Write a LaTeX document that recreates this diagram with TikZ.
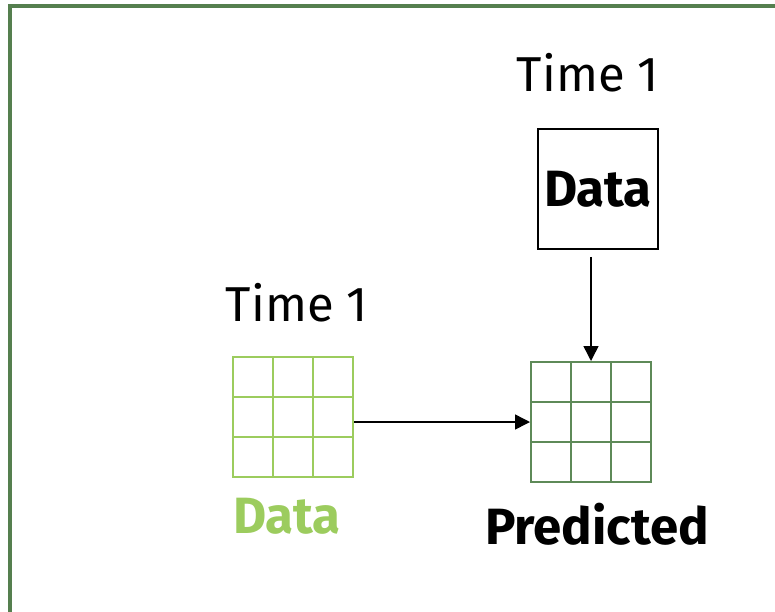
\documentclass[tikz,border=0pt]{standalone}
\usepackage{fontspec}
\setmainfont{Fira Sans}
\usepackage{xcolor}
\usetikzlibrary{arrows.meta, positioning, calc}

\definecolor{frameGreen}{HTML}{557F4F}
\definecolor{dataGreen}{HTML}{9CCC5E}
\definecolor{predGreen}{HTML}{5E8A58}

\begin{document}
\begin{tikzpicture}[
    x=0.5pt, y=-0.5pt,
    % styles
    grid_block/.style={
        draw=#1, line width=1pt, minimum size=60pt, inner sep=0pt
    },
    data_box/.style={
        draw=black, line width=0.75pt, minimum size=60pt, inner sep=0pt,
        font=\fontsize{25.5}{29}\selectfont\bfseries
    },
    time_label/.style={
        inner sep=0pt, font=\fontsize{24.5}{28}\selectfont
    },
    grid_label/.style={
        inner sep=0pt, font=\fontsize{25.5}{29}\selectfont\bfseries
    },
    flow/.style={
        -{Triangle[length=7.5pt, width=7.5pt]}, line width=0.75pt, color=black
    }
]

    \useasboundingbox (0,0) rectangle (775,611);

    % --- outer frame (runs off the right and bottom edge) ---
    \begin{scope}
        \clip (0,0) rectangle (775,611);
        \draw[frameGreen, line width=2pt] (9.5,5.5) rectangle (900,700);
    \end{scope}

    % --- grids ---
    \node[grid_block=dataGreen] (data_grid) at (293,417) {};
    \node[grid_block=predGreen] (pred_grid) at (591,422) {};

    % inner grid lines
    \foreach \g/\c in {data_grid/dataGreen, pred_grid/predGreen} {
        \foreach \k in {1,2} {
            \draw[\c, line width=1pt] ($(\g.north west)!\k/3!(\g.north east)$) -- ($(\g.south west)!\k/3!(\g.south east)$);
            \draw[\c, line width=1pt] ($(\g.north west)!\k/3!(\g.south west)$) -- ($(\g.north east)!\k/3!(\g.south east)$);
        }
    }

    % --- data box on top ---
    \node[data_box] (top_data) at (598,189) {Data};

    % --- labels ---
    \node[time_label, above=18pt of top_data, xshift=-5pt] (top_time) {Time 1};
    \node[time_label, above=17pt of data_grid, xshift=2pt] (left_time) {Time 1};
    \node[grid_label, below=10pt of data_grid, xshift=-3pt, text=dataGreen] (data_text) {Data};
    \node[grid_label, below=10pt of pred_grid, xshift=3pt] (pred_text) {Predicted};

    % --- connectors ---
    \draw[flow, shorten <=3.5pt] (pred_grid.north |- top_data.south) -- (pred_grid.north);
    \draw[flow] (data_grid.east |- pred_grid.west) -- (pred_grid.west);

\end{tikzpicture}
\end{document}
